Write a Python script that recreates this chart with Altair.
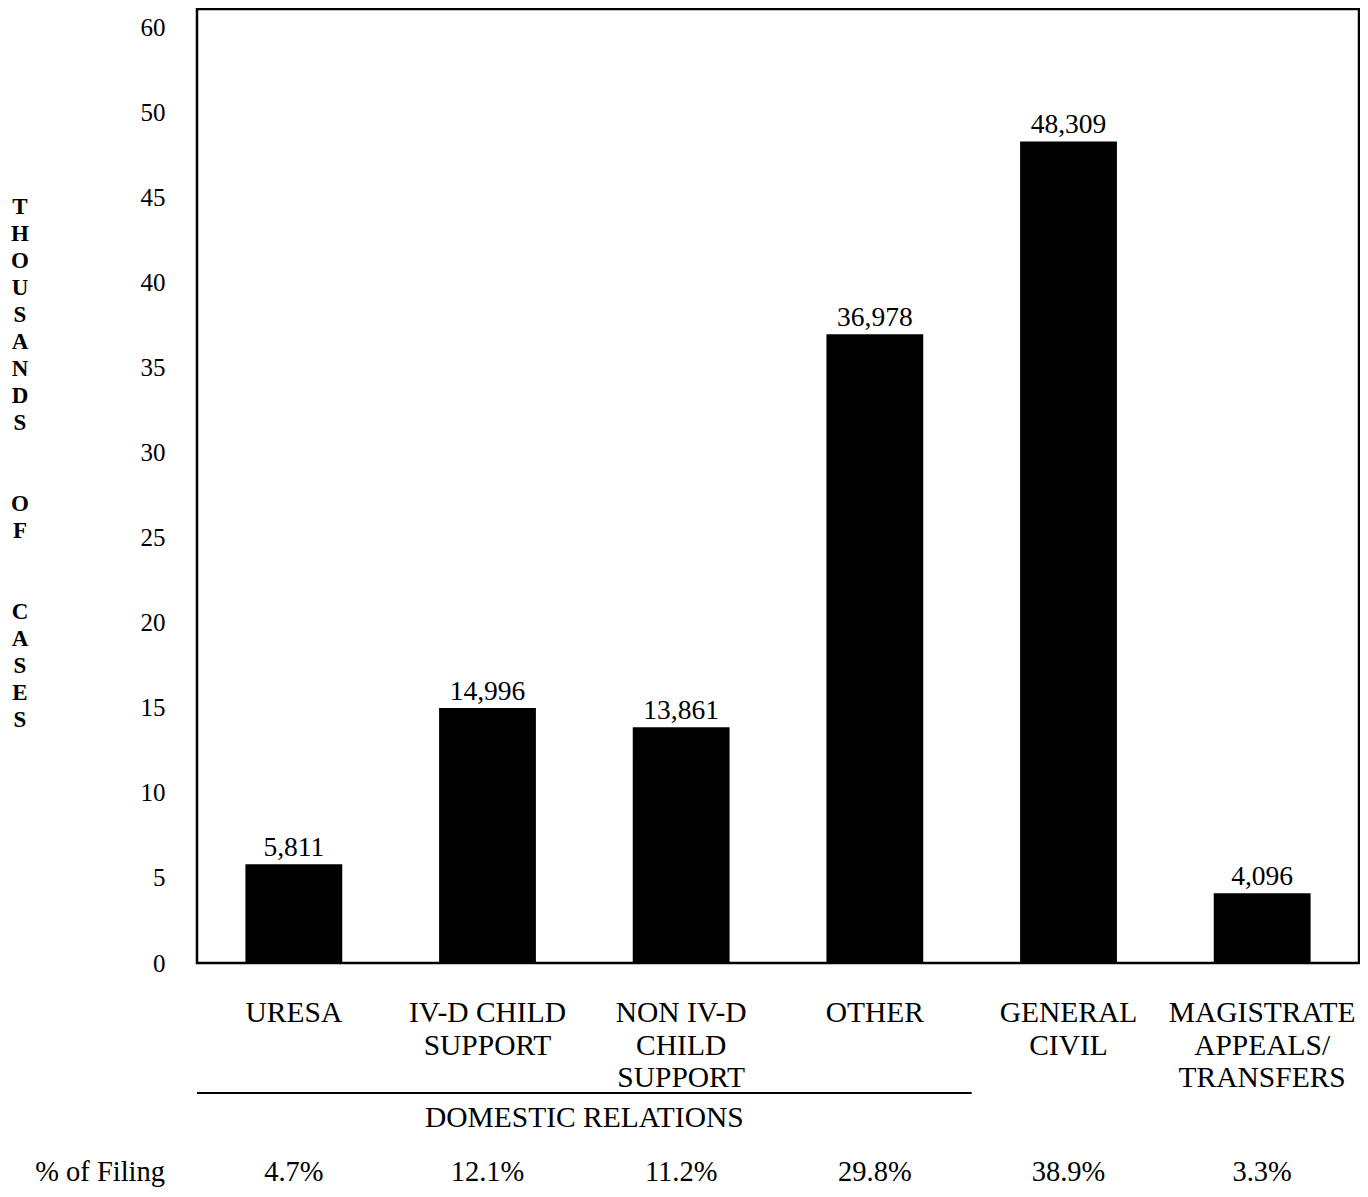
import altair as alt
import pandas as pd

# ---- data ----
categories = ["URESA", "IV-D CHILD SUPPORT", "NON IV-D CHILD SUPPORT", "OTHER",
              "GENERAL CIVIL", "MAGISTRATE APPEALS/TRANSFERS"]
category_labels = ["URESA", "IV-D CHILD\nSUPPORT", "NON IV-D\nCHILD\nSUPPORT", "OTHER",
                   "GENERAL\nCIVIL", "MAGISTRATE\nAPPEALS/\nTRANSFERS"]
cases = [5811, 14996, 13861, 36978, 48309, 4096]
pct_of_filing = ["4.7%", "12.1%", "11.2%", "29.8%", "38.9%", "3.3%"]
y_tick_values = [0, 5, 10, 15, 20, 25, 30, 35, 40, 45, 50, 55]
y_tick_labels = ["0", "5", "10", "15", "20", "25", "30", "35", "40", "45", "50", "60"]
y_title_words = ["THOUSANDS", "OF", "CASES"]
group_label = "DOMESTIC RELATIONS"
group_size = 4
row_header = "% of Filing"

SERIF = "Liberation Serif"
W, H = 1162, 954
STEP = W / len(categories)
TITLE_TOP, TITLE_LH, TITLE_GAP = 198, 27, 2

df = pd.DataFrame({
    "category": categories,
    "label": category_labels,
    "thousands": [c / 1000 for c in cases],
    "value_label": [f"{c:,}" for c in cases],
    "pct": pct_of_filing,
})

label_expr = "[" + ",".join(f"'{t}'" for t in y_tick_labels) + "][indexof(" + \
    "[" + ",".join(str(v) for v in y_tick_values) + "], datum.value)]"

x_enc = alt.X("category:N", sort=categories,
              scale=alt.Scale(paddingInner=0.5, paddingOuter=0.25), axis=None)
y_enc = alt.Y("thousands:Q",
              scale=alt.Scale(domain=[0, 56.1], nice=False, zero=True),
              axis=alt.Axis(values=y_tick_values, labelExpr=label_expr, title=None,
                            grid=False, ticks=False, domain=False,
                            labelFont=SERIF, labelFontSize=25, labelColor="black",
                            labelPadding=32))

base = alt.Chart(df)

bars = base.mark_bar(color="black").encode(x=x_enc, y=y_enc)

values = base.mark_text(font=SERIF, fontSize=27.5, color="black", baseline="alphabetic",
                        dy=-8).encode(x=x_enc, y=y_enc, text="value_label:N")

cat_text = base.mark_text(font=SERIF, fontSize=29.5, color="black", baseline="alphabetic",
                          lineBreak="\n", lineHeight=32.5).encode(
    x=x_enc, y=alt.value(1013), text="label:N")

pct_text = base.mark_text(font=SERIF, fontSize=28.5, color="black",
                          baseline="alphabetic").encode(
    x=x_enc, y=alt.value(1172), text="pct:N")

one = pd.DataFrame({"row_header": [row_header], "group": [group_label]})

header = alt.Chart(one).mark_text(font=SERIF, fontSize=28.5, color="black",
                                  baseline="alphabetic", align="right").encode(
    x=alt.value(-32), y=alt.value(1172), text="row_header:N")

group_rule = alt.Chart(one).mark_rule(color="black", strokeWidth=2).encode(
    x=alt.value(0), x2=alt.value(group_size * STEP), y=alt.value(1084))

group_text = alt.Chart(one).mark_text(font=SERIF, fontSize=29.5, color="black",
                                      baseline="alphabetic").encode(
    x=alt.value(group_size * STEP / 2), y=alt.value(1118), text="group:N")

# vertical, letter-stacked y title: one text layer per word
title_layers = []
line_idx = 0
for word in y_title_words:
    wdf = pd.DataFrame({"w": ["\n".join(word)]})
    title_layers.append(
        alt.Chart(wdf).mark_text(font=SERIF, fontSize=23, fontWeight="bold",
                                 color="black", baseline="middle", lineBreak="\n",
                                 lineHeight=TITLE_LH).encode(
            x=alt.value(-177), y=alt.value(TITLE_TOP + line_idx * TITLE_LH), text="w:N"))
    line_idx += len(word) + TITLE_GAP

chart = alt.layer(bars, values, cat_text, pct_text, header, group_rule, group_text,
                  *title_layers).properties(
    width=W, height=H,
    autosize=alt.AutoSizeParams(type="none"),
    padding={"left": 189, "top": 1, "right": 1, "bottom": 225},
    background="white",
).configure_view(stroke="black", strokeWidth=2.5)

chart.save("out.html", embed_options={"renderer": "svg", "actions": False})
